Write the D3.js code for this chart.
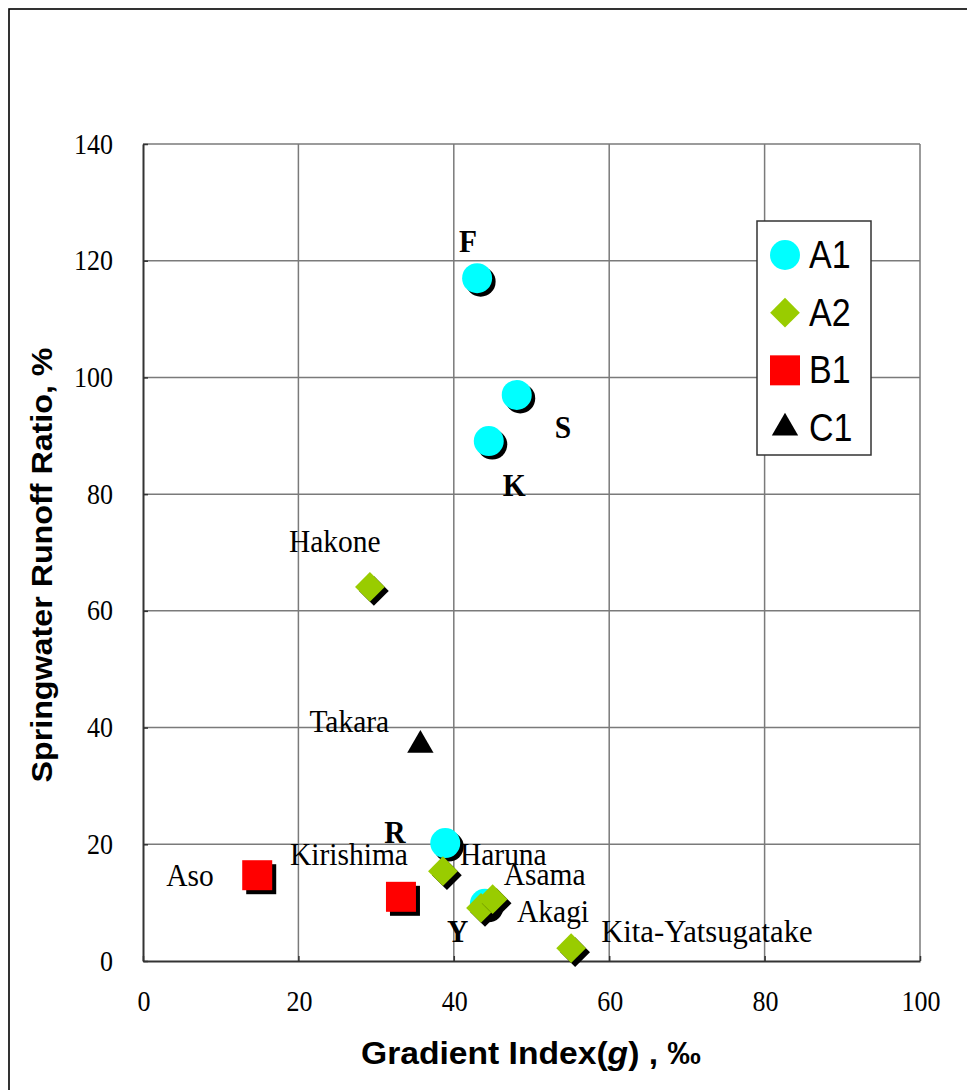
<!DOCTYPE html>
<html>
<head>
<meta charset="utf-8">
<script src="https://cdn.jsdelivr.net/npm/d3@7"></script>
<style>
  html, body { margin: 0; padding: 0; background: #ffffff; }
  svg { display: block; }
</style>
</head>
<body>
<svg id="chart" width="967" height="1090"></svg>
<script>
// ---- data ----
const xTicks = [0, 20, 40, 60, 80, 100];
const yTicks = [0, 20, 40, 60, 80, 100, 120, 140];

const seriesNames = ["A1", "A2", "B1", "C1"];

const a1Names = ["F", "S", "K", "R", "Y"];
const a1X = [43.0, 48.1, 44.5, 38.9, 44.0];
const a1Y = [117.0, 97.0, 89.1, 20.2, 9.8];

const a2Names = ["Hakone", "Haruna", "Akagi", "Asama", "Kita-Yatsugatake"];
const a2X = [29.2, 38.6, 43.5, 45.0, 55.1];
const a2Y = [64.1, 15.4, 9.1, 10.6, 2.2];

const b1Names = ["Aso", "Kirishima"];
const b1X = [14.7, 33.2];
const b1Y = [14.7, 11.0];

const c1Names = ["Takara"];
const c1X = [35.7];
const c1Y = [37.0];

const xTitle = "Gradient Index(";
const yTitle = "Springwater Runoff Ratio, %";

// ---- layout ----
const svg = d3.select("#chart");
const plot = { left: 143, top: 144, right: 920, bottom: 961 };

const x = d3.scaleLinear().domain([0, 100]).range([plot.left, plot.right]);
const y = d3.scaleLinear().domain([0, 140]).range([plot.bottom, plot.top]);

const colors = { A1: "#00ffff", A2: "#99cc00", B1: "#ff0000", C1: "#000000" };
const serif = "'Liberation Serif', 'Times New Roman', serif";
const sans = "'Liberation Sans', Arial, sans-serif";

// label placement, pixel offsets from each marker centre
const labelOffset = {
  F: [-18, -26], S: [38, 43], K: [14, 55], R: [-61, 0], Y: [-38, 38],
  Hakone: [-81, -35], Haruna: [17, -6], Akagi: [36, 14], Asama: [11, -14],
  "Kita-Yatsugatake": [30, -6], Aso: [-91, 11], Kirishima: [-111, -32],
  Takara: [-111, -13]
};

// outer frame
svg.append("rect")
  .attr("x", 9).attr("y", 9).attr("width", 1000).attr("height", 1120)
  .attr("fill", "none").attr("stroke", "#000").attr("stroke-width", 1.6);

// gridlines
const grid = svg.append("g");
grid.selectAll("line.h").data(yTicks.filter(d => d > 0)).join("line")
  .attr("x1", plot.left).attr("x2", plot.right)
  .attr("y1", d => y(d)).attr("y2", d => y(d))
  .attr("stroke", "#7a7a7a").attr("stroke-width", 1.5);
grid.selectAll("line.v").data(xTicks.filter(d => d > 0)).join("line")
  .attr("y1", plot.top).attr("y2", plot.bottom)
  .attr("x1", d => x(d)).attr("x2", d => x(d))
  .attr("stroke", "#7a7a7a").attr("stroke-width", 1.5);

// axes (ticks drawn inward, labels added separately)
const xAxis = svg.append("g").attr("transform", `translate(0,${plot.bottom})`)
  .call(d3.axisBottom(x).tickValues(xTicks).tickSizeInner(-5).tickSizeOuter(0).tickFormat(""));
const yAxis = svg.append("g").attr("transform", `translate(${plot.left},0)`)
  .call(d3.axisLeft(y).tickValues(yTicks).tickSizeInner(-5).tickSizeOuter(0).tickFormat(""));
[xAxis, yAxis].forEach(a => {
  a.select(".domain").attr("stroke", "#333").attr("stroke-width", 2);
  a.selectAll(".tick line").attr("stroke", "#333").attr("stroke-width", 1.5);
});

// text helper with a slight vertical stretch
function label(g, tx, ty, str, opts) {
  const t = g.append("text")
    .attr("transform", `translate(${tx},${ty}) scale(${opts.sx || 1},${opts.sy || 1})`)
    .attr("font-family", opts.family || serif)
    .attr("font-size", opts.size)
    .attr("font-weight", opts.weight || "normal")
    .attr("text-anchor", opts.anchor || "start")
    .attr("fill", "#000")
    .text(str);
  return t;
}

// tick labels
const tl = svg.append("g");
yTicks.forEach(v => label(tl, 113, y(v) + 9.5, String(v), { size: 26, sy: 1.1, anchor: "end" }));
xTicks.forEach(v => label(tl, x(v) + 1, 1011, String(v), { size: 26, sy: 1.1, anchor: "middle" }));

// axis titles
const xt = svg.append("text")
  .attr("transform", "translate(531,1064) scale(1,1.08)")
  .attr("text-anchor", "middle")
  .attr("font-family", sans).attr("font-weight", "bold").attr("font-size", 29)
  .attr("textLength", 340).attr("lengthAdjust", "spacingAndGlyphs");
xt.append("tspan").text(xTitle);
xt.append("tspan").attr("font-style", "italic").text("g");
xt.append("tspan").text(") ,  \u2030");

svg.append("text")
  .attr("transform", `translate(52,565) rotate(-90) scale(1,1.08)`)
  .attr("text-anchor", "middle")
  .attr("font-family", sans).attr("font-weight", "bold").attr("font-size", 27)
  .attr("textLength", 435).attr("lengthAdjust", "spacingAndGlyphs")
  .text(yTitle);

// marker shapes
const symbols = {
  A1: d3.symbol().type(d3.symbolCircle).size(Math.PI * 15 * 15),
  A2: d3.symbol().type(d3.symbolSquare).size(21 * 21),
  B1: d3.symbol().type(d3.symbolSquare).size(30 * 30),
  C1: d3.symbol().type(d3.symbolTriangle).size(300)
};
const rotation = { A1: 0, A2: 45, B1: 0, C1: 0 };
const shadow = { A1: 3.5, A2: 4, B1: 4, C1: 0 };

const series = [
  { key: "A1", names: a1Names, xs: a1X, ys: a1Y, bold: true },
  { key: "A2", names: a2Names, xs: a2X, ys: a2Y, bold: false },
  { key: "B1", names: b1Names, xs: b1X, ys: b1Y, bold: false },
  { key: "C1", names: c1Names, xs: c1X, ys: c1Y, bold: false }
];

const marks = svg.append("g");
series.forEach(s => {
  const pts = s.names.map((n, i) => ({ name: n, x: s.xs[i], y: s.ys[i] }));
  pts.forEach(p => {
    const cx = x(p.x), cy = y(p.y);
    if (shadow[s.key] > 0) {
      marks.append("path")
        .attr("d", symbols[s.key]())
        .attr("transform", `translate(${cx + shadow[s.key]},${cy + shadow[s.key]}) rotate(${rotation[s.key]})`)
        .attr("fill", "#000");
    }
    marks.append("path")
      .attr("d", symbols[s.key]())
      .attr("transform", `translate(${cx},${cy}) rotate(${rotation[s.key]})`)
      .attr("fill", colors[s.key]);
  });
});

// point labels
const labels = svg.append("g");
series.forEach(s => {
  s.names.forEach((n, i) => {
    const off = labelOffset[n] || [10, -10];
    label(labels, x(s.xs[i]) + off[0], y(s.ys[i]) + off[1], n,
      { size: 29.5, sy: 1.1, sx: n === "Kita-Yatsugatake" ? 1.04 : 1, weight: s.bold ? "bold" : "normal" });
  });
});

// legend
const lg = svg.append("g");
lg.append("rect").attr("x", 757).attr("y", 221).attr("width", 114).attr("height", 234)
  .attr("fill", "#fff").attr("stroke", "#333").attr("stroke-width", 1.5);
const legendRows = d3.scalePoint().domain(seriesNames).range([255, 428]);
seriesNames.forEach(k => {
  const ly = legendRows(k);
  lg.append("path").attr("d", symbols[k]())
    .attr("transform", `translate(785,${ly}) rotate(${rotation[k]})`)
    .attr("fill", colors[k]);
  label(lg, 809, ly + 13, k, { family: sans, size: 34, sy: 1.15 });
});
</script>
</body>
</html>
